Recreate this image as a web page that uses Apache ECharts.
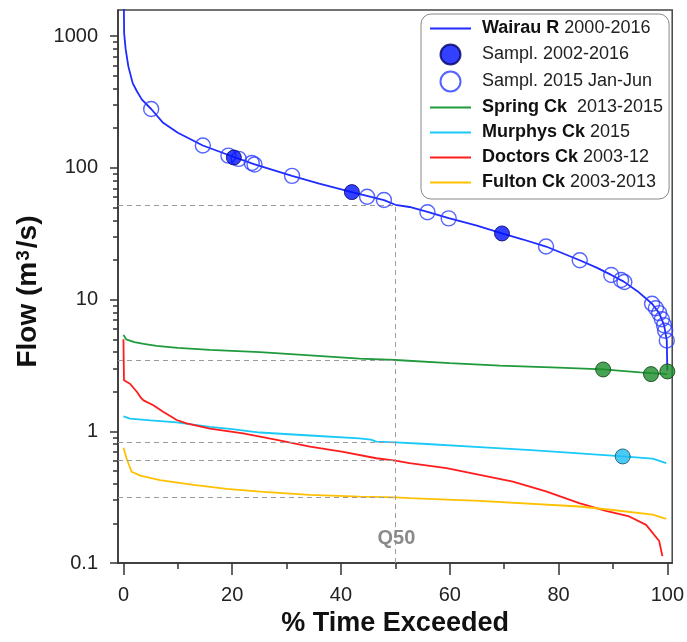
<!DOCTYPE html>
<html><head><meta charset="utf-8">
<script src="https://cdn.jsdelivr.net/npm/echarts@6/dist/echarts.min.js"></script>
<style>html,body{margin:0;padding:0;background:#fff}#c{width:687px;height:642px}</style>
</head><body><div id="c"></div>
<script>
// ---- tick labels ----
const xTickLabels = [0, 20, 40, 60, 80, 100];
const xMinorTicks = [10, 30, 50, 70, 90];
const yTickLabels = [0.1, 1, 10, 100, 1000];
const yMinorTicks = [0.2,0.3,0.4,0.5,0.6,0.7,0.8,0.9, 2,3,4,5,6,7,8,9, 20,30,40,50,60,70,80,90, 200,300,400,500,600,700,800,900];

// ---- legend text ----
const legendNames = ['wairau', 'samp1', 'samp2', 'spring', 'murphys', 'doctors', 'fulton'];
const legendIsLine = [true, false, false, true, true, true, true];
const legendBold  = ['Wairau R', '', '', 'Spring Ck', 'Murphys Ck', 'Doctors Ck', 'Fulton Ck'];
const legendRest  = [' 2000-2016', 'Sampl. 2002-2016', 'Sampl. 2015 Jan-Jun', '  2013-2015', ' 2015', ' 2003-12', ' 2003-2013'];

// ---- series values: [% time exceeded, flow m3/s] ----
const wairauFlow = [[0,3000],[0.13,1050],[0.4,800],[0.9,590],[1.7,440],[2.5,380],[3.4,330],[5.1,280],[7.3,220],[10,185],[14.6,148],[20.3,121],[24,107],[31,87],[36,76],[42,65.5],[47.9,57],[50,52.5],[52.6,50.5],[55.9,46.3],[59.8,41.5],[65,36.5],[69.6,31.8],[73.5,28.6],[77.7,25.3],[83.9,19.9],[87,17.5],[89.7,15.4],[92,13.7],[94.5,11.6],[97.2,9.3],[98.5,7.9],[99.4,6.4],[99.9,4.9],[100,2.9]];
const wairauSampled = [[20.3,120],[42,65.5],[69.6,31.8]];
const wairau2015 = [[5.1,280],[14.6,148],[19.3,124],[21.2,117],[23.6,109],[24.1,106],[31,87],[44.8,60.4],[47.9,57],[55.9,46.1],[59.8,41.4],[77.7,25.3],[83.9,19.9],[89.7,15.4],[91.5,14.1],[92.1,13.6],[97.2,9.3],[97.9,8.6],[98.5,7.9],[99,7.1],[99.4,6.4],[99.6,5.8],[99.9,4.9]];
const springFlow = [[0,5.4],[0.5,5.0],[2,4.75],[4,4.6],[6.1,4.45],[10,4.3],[15.9,4.16],[25.1,4.0],[34.3,3.78],[43.4,3.57],[50,3.48],[60,3.3],[69.2,3.16],[80,3.05],[88.2,2.95],[95,2.8],[100,2.72]];
const springSampled = [[88.2,2.95],[97,2.72],[100,2.85]];
const murphysFlow = [[0,1.30],[1.2,1.25],[5,1.21],[9.8,1.17],[15.9,1.08],[20,1.04],[25.1,0.98],[34.3,0.93],[43.4,0.885],[45.5,0.865],[46.5,0.835],[50,0.824],[55,0.805],[65.5,0.76],[75,0.72],[83.8,0.68],[91.8,0.645],[97.3,0.62],[99.8,0.573]];
const murphysSampled = [[91.8,0.645]];
const doctorsFlow = [[0,5.0],[0.1,2.44],[1.2,2.30],[2.5,1.99],[3.2,1.80],[3.7,1.72],[5.5,1.58],[7.3,1.41],[9.8,1.22],[11.6,1.15],[15.9,1.05],[22,0.965],[28.2,0.86],[34.3,0.765],[40.4,0.70],[46.5,0.625],[50,0.60],[52.6,0.573],[59.4,0.525],[65.5,0.468],[71.6,0.416],[77.7,0.35],[83.8,0.285],[88.7,0.249],[93,0.226],[96.1,0.195],[98.5,0.147],[99.1,0.113]];
const fultonFlow = [[0,0.75],[0.6,0.62],[1.5,0.494],[3.1,0.461],[6.7,0.427],[12.9,0.392],[19,0.366],[25.1,0.349],[34.3,0.329],[43.4,0.32],[50,0.315],[52.6,0.311],[65.5,0.297],[83.8,0.269],[90,0.253],[97.3,0.233],[99.8,0.217]];

// ---- Q50 reference values ----
const q50X = 50;
const q50Values = [52, 3.48, 0.824, 0.60, 0.315];
const q50Label = 'Q50';

const FONT = '"Liberation Sans", Arial, sans-serif';
const xMin = -1, xMax = 100.9, yMin = 0.09999, yMax = 1580;

const chart = echarts.init(document.getElementById('c'), null, {renderer: 'canvas'});

const axisLineStyle = {color: '#333', width: 1.5};

const option = {
  animation: false,
  textStyle: {fontFamily: FONT},
  grid: {left: 118, right: 14, top: 10, bottom: 77, show: true, borderColor: '#444', borderWidth: 1.5},
  legend: {
    data: legendNames.map((n, i) => legendIsLine[i]
      ? {name: n, itemStyle: {color: 'rgba(0,0,0,0)', borderColor: 'rgba(0,0,0,0)', borderWidth: 0}, lineStyle: {width: 2}}
      : {name: n}),
    orient: 'vertical',
    left: 421, top: 14,
    padding: [4.5, 6, 6.5, 8],
    itemGap: 5.0, itemWidth: 41, itemHeight: 20,
    backgroundColor: '#fff', borderColor: '#888', borderWidth: 1, borderRadius: 10,
    textStyle: {fontFamily: FONT, fontSize: 18, color: '#222', padding: [0, 0, 0, 6], lineHeight: 20,
      rich: {b: {fontFamily: FONT, fontSize: 18, fontWeight: 'bold', color: '#111', lineHeight: 20},
             r: {fontFamily: FONT, fontSize: 18, color: '#222', lineHeight: 20}}},
    formatter: function (name) {
      const i = legendNames.indexOf(name);
      return (legendBold[i] ? '{b|' + legendBold[i] + '}' : '') + '{r|' + legendRest[i] + '}';
    }
  },
  xAxis: [{
    type: 'value', min: xMin, max: xMax,
    splitLine: {show: false},
    axisLine: {onZero: false, lineStyle: axisLineStyle},
    axisTick: {customValues: xTickLabels, length: 12, lineStyle: axisLineStyle},
    axisLabel: {customValues: xTickLabels, fontSize: 20, color: '#222', margin: 22, fontFamily: FONT},
    name: '% Time Exceeded', nameLocation: 'middle', nameGap: 46,
    nameTextStyle: {fontSize: 27, fontWeight: 'bold', color: '#111', fontFamily: FONT}
  }, {
    type: 'value', min: xMin, max: xMax, position: 'bottom',
    splitLine: {show: false},
    axisLine: {show: false, onZero: false},
    axisTick: {customValues: xMinorTicks, length: 6, lineStyle: axisLineStyle},
    axisLabel: {show: false}
  }],
  yAxis: [{
    type: 'log', logBase: 10, min: yMin, max: yMax,
    splitLine: {show: false},
    axisLine: {show: true, onZero: false, lineStyle: axisLineStyle},
    axisTick: {customValues: yTickLabels, length: 8, lineStyle: axisLineStyle},
    axisLabel: {customValues: yTickLabels, fontSize: 20, color: '#222', margin: 20, fontFamily: FONT,
      formatter: function (v) { return String(+v.toPrecision(3)); }},
    name: 'Flow (m{sup|3}/s)', nameLocation: 'middle', nameGap: 70, nameRotate: 90,
    nameTextStyle: {fontSize: 28, fontWeight: 'bold', color: '#111', fontFamily: FONT, padding: [0, 10, 0, 0],
      rich: {sup: {fontSize: 19, fontWeight: 'bold', color: '#111', fontFamily: FONT, verticalAlign: 'top', lineHeight: 17, padding: [0, 2, 0, 1]}}}
  }, {
    type: 'log', logBase: 10, min: yMin, max: yMax, position: 'left',
    splitLine: {show: false},
    axisLine: {show: false, onZero: false},
    axisTick: {customValues: yMinorTicks, length: 5, lineStyle: axisLineStyle},
    axisLabel: {show: false}
  }],
  series: [
    {
      name: 'wairau', type: 'line', data: wairauFlow, symbol: 'none', z: 3,
      lineStyle: {color: '#1f2bff', width: 1.8}, itemStyle: {color: '#1f2bff'},
      markLine: {
        silent: true, symbol: 'none', animation: false,
        lineStyle: {type: [5, 4], color: '#9a9a9a', width: 1},
        label: {show: false},
        data: q50Values.map(q => [{coord: [xMin, q]}, {coord: [q50X, q]}])
          .concat([[{coord: [q50X, yMin]}, {coord: [q50X, q50Values[0]]}]])
      },
      markPoint: {
        silent: true, symbol: 'circle', symbolSize: 0.01,
        label: {show: true, formatter: q50Label, position: 'inside', offset: [1, -25],
          fontSize: 20, fontWeight: 'bold', color: '#8a8a8a', fontFamily: FONT},
        data: [{coord: [q50X, yMin]}]
      }
    },
    {
      name: 'samp1', type: 'scatter', data: wairauSampled, symbol: 'circle', symbolSize: 15, z: 6,
      itemStyle: {color: '#0010ff', borderColor: '#000060', borderWidth: 1}
    },
    {
      name: 'samp2', type: 'scatter', data: wairau2015, symbol: 'circle', symbolSize: 15, z: 5,
      itemStyle: {color: 'rgba(255,255,255,0)', borderColor: '#2a3cff', borderWidth: 1.4}
    },
    {
      name: 'spring', type: 'line', data: springFlow, symbol: 'none', z: 3,
      lineStyle: {color: '#1f9a3c', width: 1.8}, itemStyle: {color: '#1f9a3c'}
    },
    {
      name: 'murphys', type: 'line', data: murphysFlow, symbol: 'none', z: 3,
      lineStyle: {color: '#19c9f7', width: 1.8}, itemStyle: {color: '#19c9f7'}
    },
    {
      name: 'doctors', type: 'line', data: doctorsFlow, symbol: 'none', z: 3,
      lineStyle: {color: '#ff1c1c', width: 1.8}, itemStyle: {color: '#ff1c1c'}
    },
    {
      name: 'fulton', type: 'line', data: fultonFlow, symbol: 'none', z: 3,
      lineStyle: {color: '#ffc000', width: 1.8}, itemStyle: {color: '#ffc000'}
    },
    {
      name: 'springSamp', type: 'scatter', data: springSampled, symbol: 'circle', symbolSize: 15, z: 6,
      itemStyle: {color: '#1c8c2a', borderColor: '#0b3d12', borderWidth: 1}
    },
    {
      name: 'murphysSamp', type: 'scatter', data: murphysSampled, symbol: 'circle', symbolSize: 15, z: 6,
      itemStyle: {color: '#20bdf0', borderColor: '#0b4a66', borderWidth: 1}
    }
  ]
};
chart.setOption(option);
</script></body></html>
